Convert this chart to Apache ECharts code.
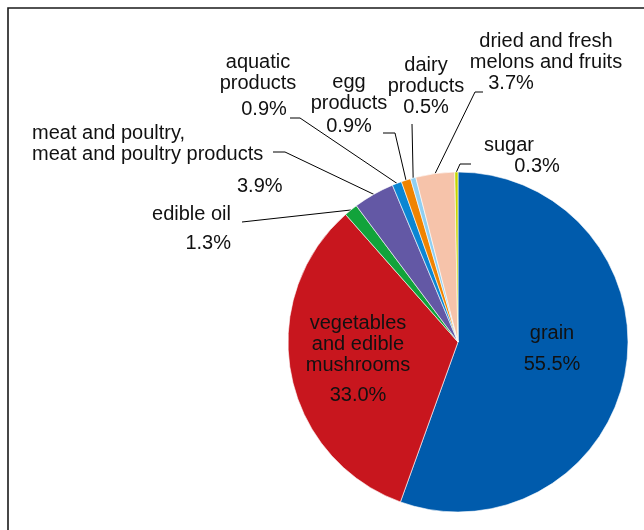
<!DOCTYPE html>
<html>
<head>
<meta charset="utf-8">
<script src="https://cdn.jsdelivr.net/npm/echarts@6/dist/echarts.min.js"></script>
<style>
html,body{margin:0;padding:0;background:#fff;}
#chart{width:644px;height:530px;}
</style>
</head>
<body>
<div id="chart"></div>
<script>
// ---- data ----
const categories = ['grain', 'vegetables and edible mushrooms', 'edible oil',
  'meat and poultry, meat and poultry products', 'aquatic products', 'egg products',
  'dairy products', 'dried and fresh melons and fruits', 'sugar'];
const shares = [55.5, 33.0, 1.3, 3.9, 0.9, 0.9, 0.5, 3.7, 0.3];
const labelTextLines = [
  ['grain'],
  ['vegetables', 'and edible', 'mushrooms'],
  ['edible oil'],
  ['meat and poultry,', 'meat and poultry products'],
  ['aquatic', 'products'],
  ['egg', 'products'],
  ['dairy', 'products'],
  ['dried and fresh', 'melons and fruits'],
  ['sugar']
];
const colors = ['#005BAC', '#C8161E', '#12A33B', '#6358A5', '#0B86D3', '#F08300', '#8FCFF2', '#F6C3AA', '#C5D600'];

// ---- layout (label placement, not data) ----
const CX = 458, CY = 342, R = 170;
const labelPlace = [
  { x: 552, y: 322.5, align: 'center', nameKey: 'n', pctKey: 'g', line: null },
  { x: 358, y: 312.5, align: 'center', nameKey: 'n', pctKey: 'v', line: null },
  { x: 231, y: 203.5, align: 'right', nameKey: 'n', pctKey: 'o', line: [[242, 222], [242, 222]] },
  { x: 32, y: 122.5, align: 'left', nameKey: 'n', pctKey: 'm', line: [[285, 152], [273, 152]] },
  { x: 258, y: 51.5, align: 'center', nameKey: 'n', pctKey: 'a', line: [[300, 118], [290, 118]] },
  { x: 349, y: 71.5, align: 'center', nameKey: 'n', pctKey: 'e', line: [[395, 133], [383, 133]] },
  { x: 426, y: 54.5, align: 'center', nameKey: 'n', pctKey: 'd', line: [[412, 124], [412, 124]] },
  { x: 546, y: 30.5, align: 'center', nameKey: 'n', pctKey: 'f', line: [[475, 92], [483, 92]] },
  { x: 537, y: 134.5, align: 'center', nameKey: 'sn', pctKey: 'd', line: [[460, 164], [471, 164]] }
];

const FONT = "'Liberation Sans', Arial, sans-serif";
const FS = 20;
const TXT = '#111111';
function rs(lh, pad) {
  const o = { fontSize: FS, lineHeight: lh, color: TXT, fontFamily: FONT };
  if (pad) o.padding = pad;
  return o;
}
const rich = {
  n: rs(21),
  sn: rs(21, [0, 56, 0, 0]),
  g: rs(41),
  v: rs(39),
  o: rs(37),
  m: rs(43, [0, 0, 0, 205]),
  a: rs(31, [0, 0, 0, 12]),
  e: rs(25),
  d: rs(21),
  f: rs(21, [0, 70, 0, 0])
};

// cumulative mid angles for leader line anchors on slice edge
const total = shares.reduce((s, v) => s + v, 0);
const midAngles = [];
let acc = 0;
shares.forEach(v => { midAngles.push((acc + v / 2) / total * 2 * Math.PI); acc += v; });

const data = categories.map((name, i) => ({
  name: name,
  value: shares[i],
  itemStyle: { color: colors[i] },
  labelLine: { show: labelPlace[i].line !== null, lineStyle: { color: '#000', width: 1 } }
}));

const chart = echarts.init(document.getElementById('chart'), null, { renderer: 'canvas' });
chart.setOption({
  backgroundColor: '#fff',
  animation: false,
  graphic: [{
    type: 'rect',
    shape: { x: 8, y: 8, width: 720, height: 620 },
    style: { fill: 'none', stroke: '#1a1a1a', lineWidth: 1.6 },
    z: 100
  }],
  series: [{
    type: 'pie',
    center: [CX, CY],
    radius: [0, R],
    startAngle: 90,
    clockwise: true,
    avoidLabelOverlap: false,
    itemStyle: { borderColor: '#ffffff', borderWidth: 0.6 },
    label: {
      show: true,
      position: 'outside',
      fontFamily: FONT,
      fontSize: FS,
      color: TXT,
      formatter: function (p) {
        const pl = labelPlace[p.dataIndex];
        const lines = labelTextLines[p.dataIndex].map(t => '{' + pl.nameKey + '|' + t + '}');
        return lines.join('\n') + '\n{' + pl.pctKey + '|' + shares[p.dataIndex].toFixed(1) + '%}';
      },
      rich: rich
    },
    labelLine: { show: true, length: 10, length2: 10, lineStyle: { color: '#000', width: 1 } },
    labelLayout: function (p) {
      const pl = labelPlace[p.dataIndex];
      const res = { x: pl.x, y: pl.y, align: pl.align, verticalAlign: 'top' };
      if (pl.line) {
        const a = midAngles[p.dataIndex];
        const edge = [CX + R * Math.sin(a), CY - R * Math.cos(a)];
        res.labelLinePoints = [edge, pl.line[0], pl.line[1]];
      }
      return res;
    },
    data: data
  }]
});
</script>
</body>
</html>
